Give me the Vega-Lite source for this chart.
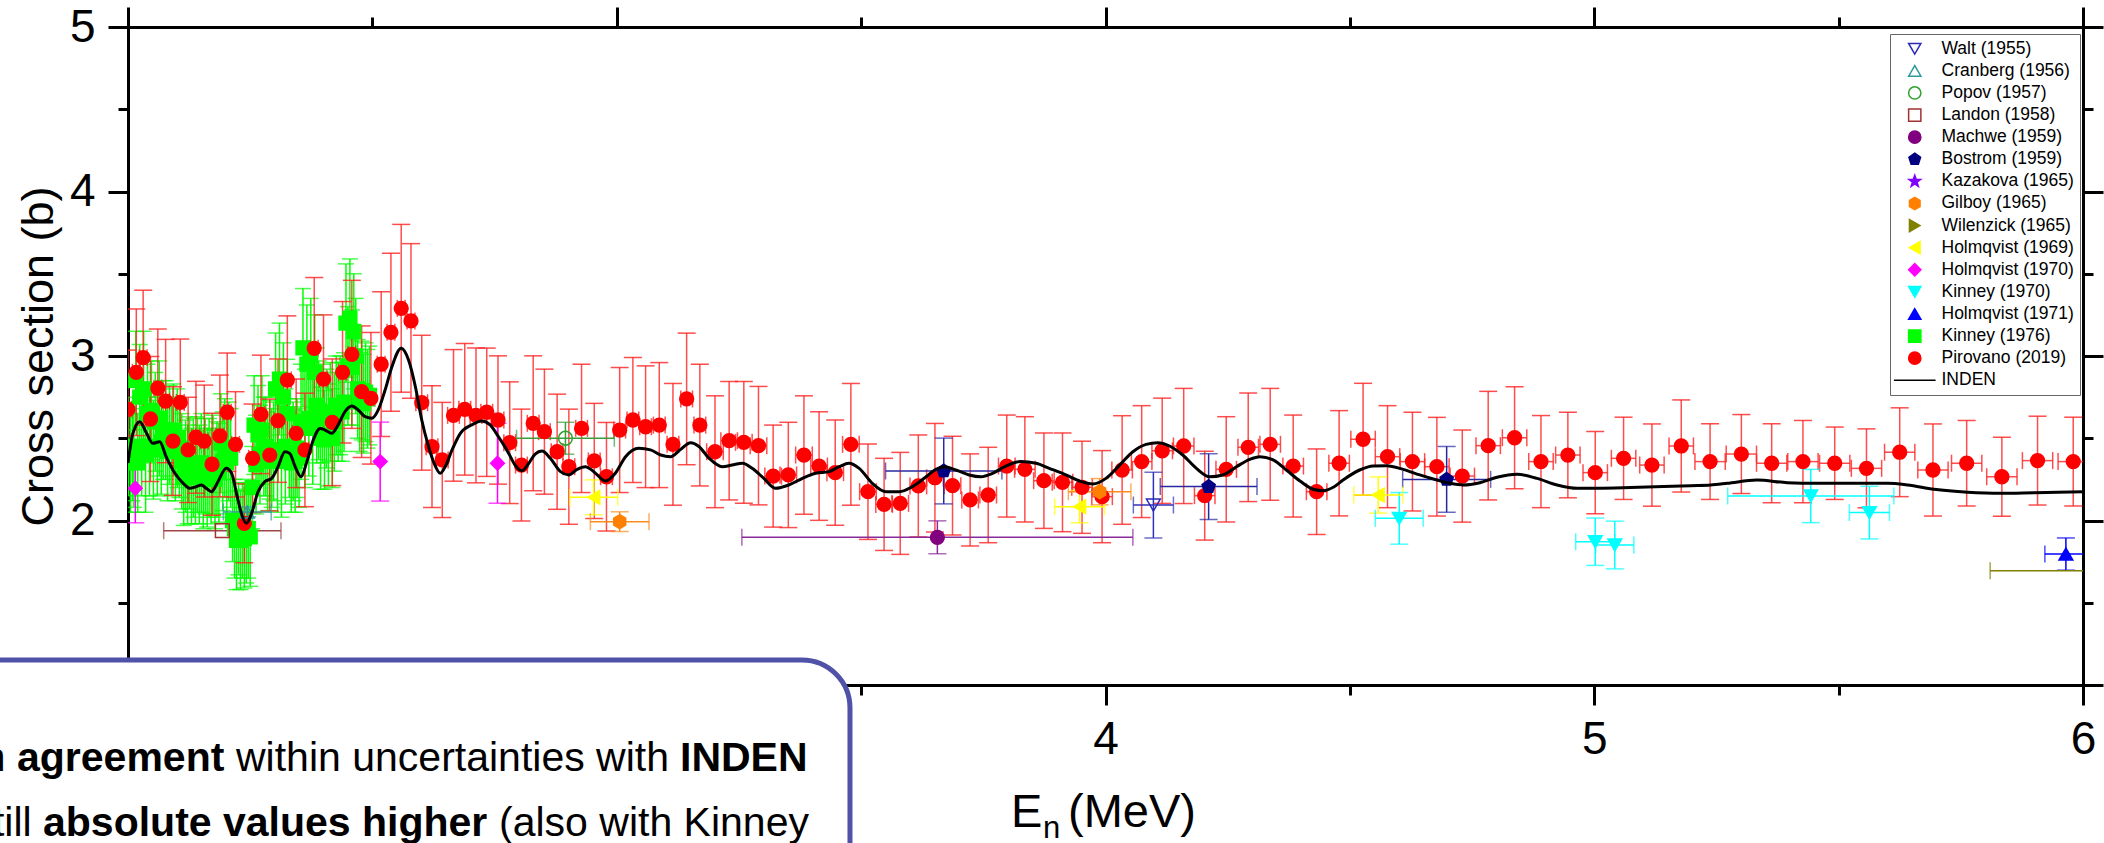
{
  "$schema": "https://vega.github.io/schema/vega-lite/v6.json",
  "width": 1955,
  "height": 658,
  "autosize": {"type": "none"},
  "padding": {"left": 128, "top": 27, "right": 21, "bottom": 158},
  "background": "white",
  "config": {
    "view": {"stroke": null},
    "font": "Liberation Sans",
    "axis": {"domainColor": "black", "domainWidth": 3, "tickColor": "black", "tickWidth": 3, "grid": false, "labelFont": "Liberation Sans", "titleFont": "Liberation Sans", "labelColor": "black", "titleColor": "black", "labelFontSize": 46, "titleFontSize": 45, "titleFontWeight": "normal", "labelFlush": false, "labelOverlap": false}
  },
  "datasets": {
    "exp": [
      {"series":"Kinney (1976)","E":2.001,"s":2.45,"ey":0.30,"ex":0},{"series":"Kinney (1976)","E":2.005,"s":2.35,"ey":0.30,"ex":0},{"series":"Kinney (1976)","E":2.009,"s":2.42,"ey":0.30,"ex":0},{"series":"Kinney (1976)","E":2.012,"s":2.38,"ey":0.30,"ex":0},
      {"series":"Kinney (1976)","E":2.016,"s":2.85,"ey":0.30,"ex":0},{"series":"Kinney (1976)","E":2.020,"s":2.35,"ey":0.30,"ex":0},{"series":"Kinney (1976)","E":2.024,"s":2.75,"ey":0.32,"ex":0},{"series":"Kinney (1976)","E":2.028,"s":2.45,"ey":0.30,"ex":0},{"series":"Kinney (1976)","E":2.032,"s":2.80,"ey":0.35,"ex":0},{"series":"Kinney (1976)","E":2.036,"s":2.40,"ey":0.35,"ex":0},{"series":"Kinney (1976)","E":2.040,"s":2.65,"ey":0.30,"ex":0},{"series":"Kinney (1976)","E":2.044,"s":2.45,"ey":0.30,"ex":0},
      {"series":"Kinney (1976)","E":2.048,"s":2.67,"ey":0.30,"ex":0},{"series":"Kinney (1976)","E":2.052,"s":2.43,"ey":0.30,"ex":0},{"series":"Kinney (1976)","E":2.056,"s":2.60,"ey":0.30,"ex":0},{"series":"Kinney (1976)","E":2.060,"s":2.45,"ey":0.30,"ex":0},{"series":"Kinney (1976)","E":2.064,"s":2.62,"ey":0.35,"ex":0},{"series":"Kinney (1976)","E":2.068,"s":2.48,"ey":0.32,"ex":0},{"series":"Kinney (1976)","E":2.072,"s":2.55,"ey":0.30,"ex":0},
      {"series":"Kinney (1976)","E":2.077,"s":2.55,"ey":0.30,"ex":0},{"series":"Kinney (1976)","E":2.081,"s":2.42,"ey":0.30,"ex":0},{"series":"Kinney (1976)","E":2.085,"s":2.52,"ey":0.30,"ex":0},{"series":"Kinney (1976)","E":2.089,"s":2.45,"ey":0.30,"ex":0},{"series":"Kinney (1976)","E":2.093,"s":2.55,"ey":0.28,"ex":0},{"series":"Kinney (1976)","E":2.097,"s":2.42,"ey":0.30,"ex":0},{"series":"Kinney (1976)","E":2.101,"s":2.50,"ey":0.30,"ex":0},{"series":"Kinney (1976)","E":2.105,"s":2.44,"ey":0.30,"ex":0},
      {"series":"Kinney (1976)","E":2.110,"s":2.36,"ey":0.29,"ex":0},{"series":"Kinney (1976)","E":2.114,"s":2.26,"ey":0.29,"ex":0},{"series":"Kinney (1976)","E":2.118,"s":2.33,"ey":0.28,"ex":0},{"series":"Kinney (1976)","E":2.122,"s":2.28,"ey":0.30,"ex":0},{"series":"Kinney (1976)","E":2.126,"s":2.35,"ey":0.28,"ex":0},{"series":"Kinney (1976)","E":2.130,"s":2.27,"ey":0.29,"ex":0},{"series":"Kinney (1976)","E":2.134,"s":2.32,"ey":0.30,"ex":0},{"series":"Kinney (1976)","E":2.138,"s":2.26,"ey":0.28,"ex":0},{"series":"Kinney (1976)","E":2.142,"s":2.34,"ey":0.29,"ex":0},{"series":"Kinney (1976)","E":2.146,"s":2.28,"ey":0.30,"ex":0},
      {"series":"Kinney (1976)","E":2.150,"s":2.35,"ey":0.30,"ex":0},{"series":"Kinney (1976)","E":2.154,"s":2.25,"ey":0.30,"ex":0},{"series":"Kinney (1976)","E":2.158,"s":2.33,"ey":0.29,"ex":0},{"series":"Kinney (1976)","E":2.162,"s":2.26,"ey":0.30,"ex":0},{"series":"Kinney (1976)","E":2.166,"s":2.32,"ey":0.30,"ex":0},{"series":"Kinney (1976)","E":2.170,"s":2.27,"ey":0.29,"ex":0},{"series":"Kinney (1976)","E":2.174,"s":2.34,"ey":0.30,"ex":0},{"series":"Kinney (1976)","E":2.178,"s":2.25,"ey":0.30,"ex":0},{"series":"Kinney (1976)","E":2.182,"s":2.31,"ey":0.29,"ex":0},{"series":"Kinney (1976)","E":2.186,"s":2.29,"ey":0.30,"ex":0},
      {"series":"Kinney (1976)","E":2.190,"s":2.47,"ey":0.30,"ex":0},{"series":"Kinney (1976)","E":2.194,"s":2.36,"ey":0.30,"ex":0},{"series":"Kinney (1976)","E":2.198,"s":2.44,"ey":0.30,"ex":0},{"series":"Kinney (1976)","E":2.202,"s":2.35,"ey":0.31,"ex":0},{"series":"Kinney (1976)","E":2.206,"s":2.42,"ey":0.30,"ex":0},{"series":"Kinney (1976)","E":2.210,"s":2.38,"ey":0.30,"ex":0},
      {"series":"Kinney (1976)","E":2.214,"s":2.00,"ey":0.25,"ex":0},{"series":"Kinney (1976)","E":2.218,"s":1.95,"ey":0.30,"ex":0},{"series":"Kinney (1976)","E":2.222,"s":1.88,"ey":0.30,"ex":0},{"series":"Kinney (1976)","E":2.226,"s":1.95,"ey":0.28,"ex":0},{"series":"Kinney (1976)","E":2.230,"s":1.88,"ey":0.30,"ex":0},{"series":"Kinney (1976)","E":2.234,"s":1.94,"ey":0.29,"ex":0},{"series":"Kinney (1976)","E":2.238,"s":1.89,"ey":0.30,"ex":0},{"series":"Kinney (1976)","E":2.242,"s":1.92,"ey":0.30,"ex":0},{"series":"Kinney (1976)","E":2.246,"s":1.95,"ey":0.30,"ex":0},{"series":"Kinney (1976)","E":2.250,"s":1.90,"ey":0.30,"ex":0},
      {"series":"Kinney (1976)","E":2.254,"s":2.20,"ey":0.25,"ex":0},{"series":"Kinney (1976)","E":2.258,"s":2.58,"ey":0.30,"ex":0},{"series":"Kinney (1976)","E":2.262,"s":2.34,"ey":0.30,"ex":0},{"series":"Kinney (1976)","E":2.266,"s":2.52,"ey":0.30,"ex":0},{"series":"Kinney (1976)","E":2.270,"s":2.40,"ey":0.30,"ex":0},{"series":"Kinney (1976)","E":2.274,"s":2.55,"ey":0.33,"ex":0},{"series":"Kinney (1976)","E":2.278,"s":2.45,"ey":0.30,"ex":0},
      {"series":"Kinney (1976)","E":2.282,"s":2.45,"ey":0.30,"ex":0},{"series":"Kinney (1976)","E":2.286,"s":2.36,"ey":0.30,"ex":0},{"series":"Kinney (1976)","E":2.290,"s":2.43,"ey":0.30,"ex":0},{"series":"Kinney (1976)","E":2.294,"s":2.38,"ey":0.30,"ex":0},{"series":"Kinney (1976)","E":2.298,"s":2.42,"ey":0.30,"ex":0},
      {"series":"Kinney (1976)","E":2.302,"s":2.80,"ey":0.34,"ex":0},{"series":"Kinney (1976)","E":2.306,"s":2.40,"ey":0.35,"ex":0},{"series":"Kinney (1976)","E":2.310,"s":2.86,"ey":0.34,"ex":0},{"series":"Kinney (1976)","E":2.314,"s":2.36,"ey":0.34,"ex":0},{"series":"Kinney (1976)","E":2.318,"s":2.75,"ey":0.33,"ex":0},{"series":"Kinney (1976)","E":2.322,"s":2.45,"ey":0.35,"ex":0},{"series":"Kinney (1976)","E":2.326,"s":2.65,"ey":0.33,"ex":0},
      {"series":"Kinney (1976)","E":2.330,"s":2.44,"ey":0.30,"ex":0},{"series":"Kinney (1976)","E":2.334,"s":2.35,"ey":0.30,"ex":0},{"series":"Kinney (1976)","E":2.338,"s":2.42,"ey":0.30,"ex":0},{"series":"Kinney (1976)","E":2.342,"s":2.36,"ey":0.31,"ex":0},{"series":"Kinney (1976)","E":2.346,"s":2.44,"ey":0.30,"ex":0},{"series":"Kinney (1976)","E":2.350,"s":2.38,"ey":0.30,"ex":0},
      {"series":"Kinney (1976)","E":2.354,"s":2.60,"ey":0.35,"ex":0},{"series":"Kinney (1976)","E":2.358,"s":3.05,"ey":0.36,"ex":0},{"series":"Kinney (1976)","E":2.362,"s":2.56,"ey":0.36,"ex":0},{"series":"Kinney (1976)","E":2.366,"s":2.95,"ey":0.36,"ex":0},{"series":"Kinney (1976)","E":2.370,"s":2.62,"ey":0.35,"ex":0},{"series":"Kinney (1976)","E":2.374,"s":3.00,"ey":0.35,"ex":0},{"series":"Kinney (1976)","E":2.378,"s":2.58,"ey":0.36,"ex":0},{"series":"Kinney (1976)","E":2.382,"s":2.90,"ey":0.35,"ex":0},{"series":"Kinney (1976)","E":2.386,"s":2.70,"ey":0.35,"ex":0},
      {"series":"Kinney (1976)","E":2.390,"s":2.67,"ey":0.30,"ex":0},{"series":"Kinney (1976)","E":2.394,"s":2.50,"ey":0.31,"ex":0},{"series":"Kinney (1976)","E":2.398,"s":2.65,"ey":0.30,"ex":0},{"series":"Kinney (1976)","E":2.402,"s":2.49,"ey":0.30,"ex":0},{"series":"Kinney (1976)","E":2.406,"s":2.62,"ey":0.30,"ex":0},{"series":"Kinney (1976)","E":2.410,"s":2.52,"ey":0.31,"ex":0},{"series":"Kinney (1976)","E":2.414,"s":2.66,"ey":0.30,"ex":0},{"series":"Kinney (1976)","E":2.418,"s":2.50,"ey":0.30,"ex":0},{"series":"Kinney (1976)","E":2.422,"s":2.60,"ey":0.30,"ex":0},
      {"series":"Kinney (1976)","E":2.426,"s":2.70,"ey":0.30,"ex":0},{"series":"Kinney (1976)","E":2.430,"s":2.66,"ey":0.30,"ex":0},{"series":"Kinney (1976)","E":2.434,"s":2.70,"ey":0.30,"ex":0},{"series":"Kinney (1976)","E":2.438,"s":2.66,"ey":0.30,"ex":0},{"series":"Kinney (1976)","E":2.442,"s":2.72,"ey":0.30,"ex":0},
      {"series":"Kinney (1976)","E":2.446,"s":3.20,"ey":0.36,"ex":0},{"series":"Kinney (1976)","E":2.450,"s":2.94,"ey":0.36,"ex":0},{"series":"Kinney (1976)","E":2.454,"s":3.23,"ey":0.36,"ex":0},{"series":"Kinney (1976)","E":2.458,"s":2.93,"ey":0.35,"ex":0},{"series":"Kinney (1976)","E":2.462,"s":3.15,"ey":0.35,"ex":0},{"series":"Kinney (1976)","E":2.466,"s":3.00,"ey":0.35,"ex":0},
      {"series":"Kinney (1976)","E":2.470,"s":2.80,"ey":0.30,"ex":0},{"series":"Kinney (1976)","E":2.474,"s":2.72,"ey":0.30,"ex":0},{"series":"Kinney (1976)","E":2.478,"s":2.79,"ey":0.30,"ex":0},{"series":"Kinney (1976)","E":2.482,"s":2.71,"ey":0.30,"ex":0},{"series":"Kinney (1976)","E":2.486,"s":2.78,"ey":0.30,"ex":0},{"series":"Kinney (1976)","E":2.490,"s":2.74,"ey":0.30,"ex":0},{"series":"Kinney (1976)","E":2.494,"s":2.76,"ey":0.30,"ex":0},

      {"series":"Pirovano (2019)","E":2.000,"s":2.676,"ey":0.36,"ex":0.008},{"series":"Pirovano (2019)","E":2.017,"s":2.901,"ey":0.385,"ex":0.008},{"series":"Pirovano (2019)","E":2.031,"s":2.990,"ey":0.41,"ex":0.008},{"series":"Pirovano (2019)","E":2.046,"s":2.617,"ey":0.38,"ex":0.008},{"series":"Pirovano (2019)","E":2.061,"s":2.804,"ey":0.36,"ex":0.008},{"series":"Pirovano (2019)","E":2.077,"s":2.726,"ey":0.375,"ex":0.008},{"series":"Pirovano (2019)","E":2.092,"s":2.483,"ey":0.33,"ex":0.008},{"series":"Pirovano (2019)","E":2.107,"s":2.718,"ey":0.385,"ex":0.008},{"series":"Pirovano (2019)","E":2.123,"s":2.429,"ey":0.32,"ex":0.008},{"series":"Pirovano (2019)","E":2.139,"s":2.506,"ey":0.34,"ex":0.008},
      {"series":"Pirovano (2019)","E":2.156,"s":2.483,"ey":0.34,"ex":0.008},{"series":"Pirovano (2019)","E":2.172,"s":2.342,"ey":0.31,"ex":0.008},{"series":"Pirovano (2019)","E":2.188,"s":2.514,"ey":0.37,"ex":0.008},{"series":"Pirovano (2019)","E":2.203,"s":2.658,"ey":0.36,"ex":0.008},{"series":"Pirovano (2019)","E":2.220,"s":2.463,"ey":0.32,"ex":0.008},{"series":"Pirovano (2019)","E":2.238,"s":1.983,"ey":0.24,"ex":0.008},{"series":"Pirovano (2019)","E":2.255,"s":2.378,"ey":0.33,"ex":0.008},{"series":"Pirovano (2019)","E":2.272,"s":2.645,"ey":0.36,"ex":0.008},{"series":"Pirovano (2019)","E":2.290,"s":2.398,"ey":0.34,"ex":0.008},{"series":"Pirovano (2019)","E":2.307,"s":2.607,"ey":0.375,"ex":0.008},
      {"series":"Pirovano (2019)","E":2.326,"s":2.854,"ey":0.39,"ex":0.008},{"series":"Pirovano (2019)","E":2.344,"s":2.530,"ey":0.33,"ex":0.008},{"series":"Pirovano (2019)","E":2.362,"s":2.429,"ey":0.345,"ex":0.008},{"series":"Pirovano (2019)","E":2.381,"s":3.047,"ey":0.43,"ex":0.008},{"series":"Pirovano (2019)","E":2.400,"s":2.860,"ey":0.39,"ex":0.008},{"series":"Pirovano (2019)","E":2.418,"s":2.597,"ey":0.385,"ex":0.008},{"series":"Pirovano (2019)","E":2.439,"s":2.901,"ey":0.43,"ex":0.008},{"series":"Pirovano (2019)","E":2.458,"s":3.010,"ey":0.45,"ex":0.008},{"series":"Pirovano (2019)","E":2.478,"s":2.783,"ey":0.40,"ex":0.008},{"series":"Pirovano (2019)","E":2.497,"s":2.743,"ey":0.40,"ex":0.008},
      {"series":"Pirovano (2019)","E":2.518,"s":2.950,"ey":0.44,"ex":0.008},{"series":"Pirovano (2019)","E":2.538,"s":3.144,"ey":0.48,"ex":0.008},{"series":"Pirovano (2019)","E":2.559,"s":3.290,"ey":0.51,"ex":0.008},{"series":"Pirovano (2019)","E":2.579,"s":3.213,"ey":0.47,"ex":0.008},{"series":"Pirovano (2019)","E":2.601,"s":2.716,"ey":0.41,"ex":0.012},{"series":"Pirovano (2019)","E":2.622,"s":2.449,"ey":0.37,"ex":0.012},{"series":"Pirovano (2019)","E":2.643,"s":2.368,"ey":0.35,"ex":0.012},{"series":"Pirovano (2019)","E":2.666,"s":2.639,"ey":0.40,"ex":0.012},{"series":"Pirovano (2019)","E":2.689,"s":2.676,"ey":0.40,"ex":0.012},{"series":"Pirovano (2019)","E":2.712,"s":2.639,"ey":0.41,"ex":0.012},
      {"series":"Pirovano (2019)","E":2.734,"s":2.658,"ey":0.39,"ex":0.012},{"series":"Pirovano (2019)","E":2.757,"s":2.611,"ey":0.39,"ex":0.012},{"series":"Pirovano (2019)","E":2.781,"s":2.473,"ey":0.37,"ex":0.012},{"series":"Pirovano (2019)","E":2.805,"s":2.337,"ey":0.34,"ex":0.012},{"series":"Pirovano (2019)","E":2.829,"s":2.591,"ey":0.41,"ex":0.012},{"series":"Pirovano (2019)","E":2.852,"s":2.540,"ey":0.38,"ex":0.012},{"series":"Pirovano (2019)","E":2.878,"s":2.418,"ey":0.35,"ex":0.012},{"series":"Pirovano (2019)","E":2.902,"s":2.327,"ey":0.35,"ex":0.012},{"series":"Pirovano (2019)","E":2.928,"s":2.560,"ey":0.39,"ex":0.012},{"series":"Pirovano (2019)","E":2.954,"s":2.362,"ey":0.35,"ex":0.012},
      {"series":"Pirovano (2019)","E":2.979,"s":2.266,"ey":0.33,"ex":0.012},{"series":"Pirovano (2019)","E":3.006,"s":2.550,"ey":0.38,"ex":0.012},{"series":"Pirovano (2019)","E":3.033,"s":2.611,"ey":0.38,"ex":0.012},{"series":"Pirovano (2019)","E":3.059,"s":2.570,"ey":0.37,"ex":0.012},{"series":"Pirovano (2019)","E":3.087,"s":2.580,"ey":0.38,"ex":0.012},{"series":"Pirovano (2019)","E":3.115,"s":2.463,"ey":0.37,"ex":0.012},{"series":"Pirovano (2019)","E":3.143,"s":2.739,"ey":0.40,"ex":0.012},{"series":"Pirovano (2019)","E":3.170,"s":2.580,"ey":0.37,"ex":0.012},{"series":"Pirovano (2019)","E":3.201,"s":2.418,"ey":0.34,"ex":0.017},{"series":"Pirovano (2019)","E":3.230,"s":2.485,"ey":0.36,"ex":0.017},
      {"series":"Pirovano (2019)","E":3.260,"s":2.475,"ey":0.37,"ex":0.017},{"series":"Pirovano (2019)","E":3.290,"s":2.455,"ey":0.36,"ex":0.017},{"series":"Pirovano (2019)","E":3.320,"s":2.270,"ey":0.31,"ex":0.017},{"series":"Pirovano (2019)","E":3.351,"s":2.277,"ey":0.32,"ex":0.017},{"series":"Pirovano (2019)","E":3.383,"s":2.398,"ey":0.36,"ex":0.017},{"series":"Pirovano (2019)","E":3.414,"s":2.331,"ey":0.33,"ex":0.017},{"series":"Pirovano (2019)","E":3.447,"s":2.291,"ey":0.32,"ex":0.017},{"series":"Pirovano (2019)","E":3.479,"s":2.463,"ey":0.37,"ex":0.017},{"series":"Pirovano (2019)","E":3.514,"s":2.175,"ey":0.29,"ex":0.017},{"series":"Pirovano (2019)","E":3.547,"s":2.098,"ey":0.28,"ex":0.017},
      {"series":"Pirovano (2019)","E":3.580,"s":2.104,"ey":0.31,"ex":0.017},{"series":"Pirovano (2019)","E":3.617,"s":2.210,"ey":0.31,"ex":0.017},{"series":"Pirovano (2019)","E":3.651,"s":2.260,"ey":0.33,"ex":0.017},{"series":"Pirovano (2019)","E":3.687,"s":2.212,"ey":0.30,"ex":0.017},{"series":"Pirovano (2019)","E":3.723,"s":2.125,"ey":0.28,"ex":0.017},{"series":"Pirovano (2019)","E":3.760,"s":2.155,"ey":0.29,"ex":0.017},{"series":"Pirovano (2019)","E":3.798,"s":2.331,"ey":0.31,"ex":0.017},{"series":"Pirovano (2019)","E":3.835,"s":2.311,"ey":0.32,"ex":0.021},{"series":"Pirovano (2019)","E":3.874,"s":2.242,"ey":0.29,"ex":0.021},{"series":"Pirovano (2019)","E":3.912,"s":2.232,"ey":0.30,"ex":0.021},
      {"series":"Pirovano (2019)","E":3.952,"s":2.202,"ey":0.28,"ex":0.021},{"series":"Pirovano (2019)","E":3.993,"s":2.145,"ey":0.28,"ex":0.021},{"series":"Pirovano (2019)","E":4.034,"s":2.307,"ey":0.33,"ex":0.021},{"series":"Pirovano (2019)","E":4.074,"s":2.358,"ey":0.34,"ex":0.021},{"series":"Pirovano (2019)","E":4.116,"s":2.424,"ey":0.32,"ex":0.021},{"series":"Pirovano (2019)","E":4.160,"s":2.453,"ey":0.35,"ex":0.021},{"series":"Pirovano (2019)","E":4.203,"s":2.151,"ey":0.27,"ex":0.021},{"series":"Pirovano (2019)","E":4.247,"s":2.311,"ey":0.32,"ex":0.021},{"series":"Pirovano (2019)","E":4.292,"s":2.445,"ey":0.33,"ex":0.021},{"series":"Pirovano (2019)","E":4.337,"s":2.463,"ey":0.34,"ex":0.021},
      {"series":"Pirovano (2019)","E":4.384,"s":2.331,"ey":0.31,"ex":0.021},{"series":"Pirovano (2019)","E":4.432,"s":2.175,"ey":0.26,"ex":0.021},{"series":"Pirovano (2019)","E":4.478,"s":2.348,"ey":0.32,"ex":0.021},{"series":"Pirovano (2019)","E":4.527,"s":2.494,"ey":0.34,"ex":0.025},{"series":"Pirovano (2019)","E":4.577,"s":2.388,"ey":0.31,"ex":0.025},{"series":"Pirovano (2019)","E":4.628,"s":2.358,"ey":0.30,"ex":0.025},{"series":"Pirovano (2019)","E":4.678,"s":2.327,"ey":0.30,"ex":0.025},{"series":"Pirovano (2019)","E":4.730,"s":2.270,"ey":0.28,"ex":0.025},{"series":"Pirovano (2019)","E":4.783,"s":2.455,"ey":0.33,"ex":0.025},{"series":"Pirovano (2019)","E":4.837,"s":2.503,"ey":0.31,"ex":0.025},
      {"series":"Pirovano (2019)","E":4.891,"s":2.358,"ey":0.28,"ex":0.025},{"series":"Pirovano (2019)","E":4.946,"s":2.398,"ey":0.26,"ex":0.025},{"series":"Pirovano (2019)","E":5.002,"s":2.291,"ey":0.25,"ex":0.025},{"series":"Pirovano (2019)","E":5.060,"s":2.378,"ey":0.25,"ex":0.025},{"series":"Pirovano (2019)","E":5.118,"s":2.337,"ey":0.25,"ex":0.025},{"series":"Pirovano (2019)","E":5.178,"s":2.453,"ey":0.28,"ex":0.025},{"series":"Pirovano (2019)","E":5.237,"s":2.358,"ey":0.23,"ex":0.031},{"series":"Pirovano (2019)","E":5.301,"s":2.404,"ey":0.24,"ex":0.031},{"series":"Pirovano (2019)","E":5.363,"s":2.348,"ey":0.24,"ex":0.031},{"series":"Pirovano (2019)","E":5.427,"s":2.358,"ey":0.25,"ex":0.031},
      {"series":"Pirovano (2019)","E":5.492,"s":2.348,"ey":0.22,"ex":0.031},{"series":"Pirovano (2019)","E":5.557,"s":2.317,"ey":0.24,"ex":0.031},{"series":"Pirovano (2019)","E":5.625,"s":2.415,"ey":0.27,"ex":0.031},{"series":"Pirovano (2019)","E":5.693,"s":2.307,"ey":0.28,"ex":0.031},{"series":"Pirovano (2019)","E":5.762,"s":2.348,"ey":0.26,"ex":0.031},{"series":"Pirovano (2019)","E":5.834,"s":2.266,"ey":0.24,"ex":0.031},{"series":"Pirovano (2019)","E":5.907,"s":2.364,"ey":0.27,"ex":0.031},{"series":"Pirovano (2019)","E":5.980,"s":2.358,"ey":0.27,"ex":0.031},

      {"series":"Walt (1955)","E":4.098,"s":2.094,"ey":0.20,"ex":0.041},
      {"series":"Cranberg (1956)","E":2.244,"s":2.052,"ey":0.03,"ex":0.049},
      {"series":"Popov (1957)","E":2.895,"s":2.500,"ey":0.097,"ex":0.10},
      {"series":"Landon (1958)","E":2.193,"s":1.938,"ey":0,"ex":0.12},
      {"series":"Machwe (1959)","E":3.656,"s":1.898,"ey":0.10,"ex":0.40},
      {"series":"Bostrom (1959)","E":3.669,"s":2.301,"ey":0.20,"ex":0.119},{"series":"Bostrom (1959)","E":4.211,"s":2.206,"ey":0.20,"ex":0.099},{"series":"Bostrom (1959)","E":4.698,"s":2.250,"ey":0.20,"ex":0.09},
      {"series":"Gilboy (1965)","E":3.006,"s":1.993,"ey":0.06,"ex":0.06},{"series":"Gilboy (1965)","E":3.988,"s":2.175,"ey":0.08,"ex":0.064},
      {"series":"Wilenzick (1965)","E":6.05,"s":1.695,"ey":0,"ex":0.24},
      {"series":"Holmqvist (1969)","E":2.953,"s":2.141,"ey":0.106,"ex":0.049},{"series":"Holmqvist (1969)","E":3.947,"s":2.084,"ey":0.098,"ex":0.051},{"series":"Holmqvist (1969)","E":4.558,"s":2.155,"ey":0.11,"ex":0.05},
      {"series":"Holmqvist (1970)","E":2.015,"s":2.196,"ey":0.21,"ex":0},{"series":"Holmqvist (1970)","E":2.516,"s":2.358,"ey":0.24,"ex":0},{"series":"Holmqvist (1970)","E":2.756,"s":2.348,"ey":0.243,"ex":0},
      {"series":"Kinney (1970)","E":4.601,"s":2.013,"ey":0.157,"ex":0.049},{"series":"Kinney (1970)","E":5.002,"s":1.871,"ey":0.144,"ex":0.04},{"series":"Kinney (1970)","E":5.042,"s":1.851,"ey":0.145,"ex":0.039},{"series":"Kinney (1970)","E":5.443,"s":2.149,"ey":0.162,"ex":0.17},{"series":"Kinney (1970)","E":5.563,"s":2.048,"ey":0.16,"ex":0.041},
      {"series":"Holmqvist (1971)","E":5.965,"s":1.796,"ey":0.098,"ex":0.043}
    ],
    "inden": [
      {"E":2.000,"s":2.35},{"E":2.010,"s":2.530},{"E":2.024,"s":2.601},{"E":2.038,"s":2.530},{"E":2.051,"s":2.469},{"E":2.065,"s":2.479},{"E":2.078,"s":2.388},{"E":2.096,"s":2.287},{"E":2.113,"s":2.226},{"E":2.126,"s":2.196},{"E":2.140,"s":2.206},{"E":2.150,"s":2.216},{"E":2.160,"s":2.196},{"E":2.171,"s":2.175},{"E":2.184,"s":2.236},{"E":2.201,"s":2.317},{"E":2.212,"s":2.287},{"E":2.222,"s":2.165},{"E":2.232,"s":2.044},{"E":2.242,"s":1.983},{"E":2.253,"s":2.044},{"E":2.266,"s":2.175},{"E":2.280,"s":2.236},{"E":2.294,"s":2.256},{"E":2.307,"s":2.327},{"E":2.321,"s":2.418},{"E":2.331,"s":2.408},{"E":2.342,"s":2.327},{"E":2.354,"s":2.266},{"E":2.365,"s":2.348},{"E":2.379,"s":2.489},{"E":2.393,"s":2.560},{"E":2.403,"s":2.550},{"E":2.417,"s":2.530},{"E":2.430,"s":2.581},{"E":2.444,"s":2.662},{"E":2.458,"s":2.696},{"E":2.471,"s":2.672},{"E":2.485,"s":2.631},{"E":2.499,"s":2.621},{"E":2.512,"s":2.672},{"E":2.526,"s":2.793},{"E":2.540,"s":2.935},{"E":2.559,"s":3.047},{"E":2.574,"s":2.976},{"E":2.588,"s":2.813},{"E":2.601,"s":2.611},{"E":2.615,"s":2.449},{"E":2.626,"s":2.35},{"E":2.639,"s":2.287},{"E":2.649,"s":2.327},{"E":2.663,"s":2.429},{"E":2.680,"s":2.530},{"E":2.703,"s":2.581},{"E":2.724,"s":2.605},{"E":2.741,"s":2.581},{"E":2.758,"s":2.509},{"E":2.779,"s":2.408},{"E":2.792,"s":2.337},{"E":2.806,"s":2.303},{"E":2.820,"s":2.348},{"E":2.833,"s":2.404},{"E":2.847,"s":2.422},{"E":2.864,"s":2.378},{"E":2.885,"s":2.297},{"E":2.902,"s":2.277},{"E":2.919,"s":2.311},{"E":2.936,"s":2.327},{"E":2.953,"s":2.297},{"E":2.977,"s":2.240},{"E":2.997,"s":2.287},{"E":3.018,"s":2.388},{"E":3.045,"s":2.439},{"E":3.069,"s":2.429},{"E":3.090,"s":2.398},{"E":3.110,"s":2.388},{"E":3.131,"s":2.433},{"E":3.151,"s":2.473},{"E":3.168,"s":2.450},{"E":3.189,"s":2.378},{"E":3.216,"s":2.327},{"E":3.236,"s":2.337},{"E":3.257,"s":2.348},{"E":3.277,"s":2.317},{"E":3.301,"s":2.256},{"E":3.325,"s":2.196},{"E":3.352,"s":2.216},{"E":3.380,"s":2.256},{"E":3.407,"s":2.287},{"E":3.434,"s":2.297},{"E":3.455,"s":2.327},{"E":3.475,"s":2.348},{"E":3.496,"s":2.317},{"E":3.523,"s":2.226},{"E":3.551,"s":2.175},{"E":3.578,"s":2.175},{"E":3.605,"s":2.206},{"E":3.633,"s":2.266},{"E":3.653,"s":2.311},{"E":3.670,"s":2.327},{"E":3.694,"s":2.307},{"E":3.721,"s":2.277},{"E":3.745,"s":2.266},{"E":3.769,"s":2.287},{"E":3.796,"s":2.331},{"E":3.826,"s":2.358},{"E":3.858,"s":2.348},{"E":3.885,"s":2.317},{"E":3.919,"s":2.277},{"E":3.947,"s":2.240},{"E":3.974,"s":2.222},{"E":4.001,"s":2.256},{"E":4.029,"s":2.337},{"E":4.056,"s":2.418},{"E":4.083,"s":2.463},{"E":4.107,"s":2.473},{"E":4.131,"s":2.453},{"E":4.158,"s":2.398},{"E":4.186,"s":2.317},{"E":4.213,"s":2.266},{"E":4.240,"s":2.277},{"E":4.268,"s":2.327},{"E":4.295,"s":2.372},{"E":4.316,"s":2.388},{"E":4.343,"s":2.368},{"E":4.370,"s":2.307},{"E":4.398,"s":2.240},{"E":4.425,"s":2.190},{"E":4.445,"s":2.181},{"E":4.466,"s":2.202},{"E":4.486,"s":2.246},{"E":4.520,"s":2.307},{"E":4.548,"s":2.331},{"E":4.575,"s":2.333},{"E":4.609,"s":2.311},{"E":4.643,"s":2.277},{"E":4.678,"s":2.246},{"E":4.705,"s":2.226},{"E":4.732,"s":2.216},{"E":4.766,"s":2.230},{"E":4.801,"s":2.263},{"E":4.842,"s":2.281},{"E":4.883,"s":2.256},{"E":4.924,"s":2.216},{"E":4.965,"s":2.196},{"E":5.006,"s":2.196},{"E":5.074,"s":2.200},{"E":5.142,"s":2.206},{"E":5.197,"s":2.212},{"E":5.238,"s":2.216},{"E":5.272,"s":2.226},{"E":5.333,"s":2.246},{"E":5.395,"s":2.230},{"E":5.456,"s":2.226},{"E":5.525,"s":2.226},{"E":5.600,"s":2.226},{"E":5.641,"s":2.216},{"E":5.695,"s":2.190},{"E":5.764,"s":2.172},{"E":5.832,"s":2.165},{"E":5.900,"s":2.169},{"E":6.000,"s":2.175}
    ]
  },
  "resolve": {"axis": {"x": "independent", "y": "independent"}},
  "layer": [
    {
      "data": {"name": "exp"},
      "transform": [{"filter": "datum.series === 'Kinney (1976)'"}],
      "mark": {"type": "errorbar", "color": "#00FF00", "thickness": 1.5, "ticks": {"size": 16}, "clip": true},
      "encoding": {
        "x": {"field": "E", "type": "quantitative", "scale": {"domain": [2, 6], "nice": false, "zero": false},
              "axis": {"orient": "bottom", "values": [2, 2.5, 3, 3.5, 4, 4.5, 5, 5.5, 6], "labelExpr": "datum.value % 1 === 0 ? '' + datum.value : ''", "tickSize": {"condition": {"test": "datum.value % 1 !== 0", "value": 10}, "value": 20}, "labelPadding": 12, "title": null}},
        "y": {"field": "s", "type": "quantitative", "scale": {"domain": [1, 5], "nice": false, "zero": false},
              "axis": {"orient": "left", "values": [1, 1.5, 2, 2.5, 3, 3.5, 4, 4.5, 5], "labelExpr": "datum.value % 1 === 0 ? '' + datum.value : ''", "tickSize": {"condition": {"test": "datum.value % 1 !== 0", "value": 10}, "value": 20}, "labelPadding": 13, "title": "Cross section (b)", "titlePadding": 8}},
        "yError": {"field": "ey"}
      }
    },
    {
      "data": {"name": "exp"},
      "transform": [{"filter": "datum.series === 'Pirovano (2019)'"}],
      "mark": {"type": "errorbar", "color": "#FF2020", "opacity": 0.8, "thickness": 1.5, "ticks": {"size": 18}, "clip": true},
      "encoding": {
        "x": {"field": "E", "type": "quantitative", "scale": {"domain": [2, 6], "nice": false, "zero": false},
              "axis": {"orient": "top", "values": [2, 2.5, 3, 3.5, 4, 4.5, 5, 5.5, 6], "labels": false, "tickSize": {"condition": {"test": "datum.value % 1 !== 0", "value": 10}, "value": 20}, "title": null}},
        "y": {"field": "s", "type": "quantitative", "scale": {"domain": [1, 5], "nice": false, "zero": false},
              "axis": {"orient": "right", "values": [1, 1.5, 2, 2.5, 3, 3.5, 4, 4.5, 5], "labels": false, "tickSize": {"condition": {"test": "datum.value % 1 !== 0", "value": 10}, "value": 20}, "title": null}},
        "yError": {"field": "ey"}
      }
    },
    {
      "data": {"name": "exp"},
      "transform": [{"filter": "datum.series === 'Pirovano (2019)'"}],
      "mark": {"type": "errorbar", "color": "#FF2020", "opacity": 0.8, "thickness": 1.5, "ticks": {"size": 17}, "clip": true},
      "encoding": {
        "x": {"field": "E", "type": "quantitative", "scale": {"domain": [2, 6], "nice": false, "zero": false}, "axis": null},
        "y": {"field": "s", "type": "quantitative", "scale": {"domain": [1, 5], "nice": false, "zero": false}, "axis": null},
        "xError": {"field": "ex"}
      }
    },
    {
      "data": {"name": "exp"},
      "transform": [{"filter": "datum.series !== 'Pirovano (2019)' && datum.series !== 'Kinney (1976)' && datum.ey > 0"}],
      "mark": {"type": "errorbar", "thickness": 1.5, "ticks": {"size": 18}, "clip": true},
      "encoding": {
        "x": {"field": "E", "type": "quantitative", "scale": {"domain": [2, 6], "nice": false, "zero": false}, "axis": null},
        "y": {"field": "s", "type": "quantitative", "scale": {"domain": [1, 5], "nice": false, "zero": false}, "axis": null},
        "yError": {"field": "ey"},
        "color": {"field": "series", "type": "nominal", "legend": null,
                  "scale": {"domain": ["Walt (1955)","Cranberg (1956)","Popov (1957)","Landon (1958)","Machwe (1959)","Bostrom (1959)","Kazakova (1965)","Gilboy (1965)","Wilenzick (1965)","Holmqvist (1969)","Holmqvist (1970)","Kinney (1970)","Holmqvist (1971)","Kinney (1976)","Pirovano (2019)"],
                            "range": ["#3030B8","#2E9999","#3A9F3A","#A04545","#8A2A9A","#2828A0","#8000FF","#FF8C1A","#808000","#FFFF00","#FF00FF","#00FFFF","#0000FF","#00FF00","#FF0000"]}}
      }
    },
    {
      "data": {"name": "exp"},
      "transform": [{"filter": "datum.series !== 'Pirovano (2019)' && datum.series !== 'Kinney (1976)' && datum.ex > 0"}],
      "mark": {"type": "errorbar", "thickness": 1.5, "ticks": {"size": 17}, "clip": true},
      "encoding": {
        "x": {"field": "E", "type": "quantitative", "scale": {"domain": [2, 6], "nice": false, "zero": false}, "axis": null},
        "y": {"field": "s", "type": "quantitative", "scale": {"domain": [1, 5], "nice": false, "zero": false}, "axis": null},
        "xError": {"field": "ex"},
        "color": {"field": "series", "type": "nominal", "legend": null}
      }
    },
    {
      "data": {"name": "exp"},
      "mark": {"type": "point", "size": 190, "strokeWidth": 1.5, "opacity": 1, "clip": true},
      "encoding": {
        "x": {"field": "E", "type": "quantitative", "scale": {"domain": [2, 6], "nice": false, "zero": false}, "axis": null},
        "y": {"field": "s", "type": "quantitative", "scale": {"domain": [1, 5], "nice": false, "zero": false}, "axis": null},
        "fill": {"field": "series", "type": "nominal",
                 "legend": {"orient": "none", "legendX": 1762, "legendY": 7, "title": null, "labelFont": "Liberation Sans", "labelFontSize": 17.5, "labelColor": "black", "symbolSize": 150, "symbolStrokeWidth": 1.5, "symbolOffset": 10, "rowPadding": 3.1, "padding": 6, "strokeColor": "#666666", "fillColor": "white", "labelOffset": 18, "labelLimit": 300},
                 "scale": {"domain": ["Walt (1955)","Cranberg (1956)","Popov (1957)","Landon (1958)","Machwe (1959)","Bostrom (1959)","Kazakova (1965)","Gilboy (1965)","Wilenzick (1965)","Holmqvist (1969)","Holmqvist (1970)","Kinney (1970)","Holmqvist (1971)","Kinney (1976)","Pirovano (2019)","INDEN"],
                           "range": ["transparent","transparent","transparent","transparent","#800080","#000080","#8000FF","#FF8000","#808000","#FFFF00","#FF00FF","#00FFFF","#0000FF","#00FF00","#FF0000","transparent"]}},
        "stroke": {"field": "series", "type": "nominal",
                 "legend": {"orient": "none", "legendX": 1762, "legendY": 7, "title": null, "labelFont": "Liberation Sans", "labelFontSize": 17.5, "labelColor": "black", "symbolSize": 150, "symbolStrokeWidth": 1.5, "symbolOffset": 10, "rowPadding": 3.1, "padding": 6, "strokeColor": "#666666", "fillColor": "white", "labelOffset": 18, "labelLimit": 300},
                 "scale": {"domain": ["Walt (1955)","Cranberg (1956)","Popov (1957)","Landon (1958)","Machwe (1959)","Bostrom (1959)","Kazakova (1965)","Gilboy (1965)","Wilenzick (1965)","Holmqvist (1969)","Holmqvist (1970)","Kinney (1970)","Holmqvist (1971)","Kinney (1976)","Pirovano (2019)","INDEN"],
                           "range": ["#2B2BB8","#2E9999","#33A033","#A03232","#800080","#000080","#8000FF","#FF8000","#808000","#FFFF00","#FF00FF","#00FFFF","#0000FF","#00FF00","#FF0000","#000000"]}},
        "shape": {"field": "series", "type": "nominal",
                 "legend": {"orient": "none", "legendX": 1762, "legendY": 7, "title": null, "labelFont": "Liberation Sans", "labelFontSize": 17.5, "labelColor": "black", "symbolSize": 150, "symbolStrokeWidth": 1.5, "symbolOffset": 10, "rowPadding": 3.1, "padding": 6, "strokeColor": "#666666", "fillColor": "white", "labelOffset": 18, "labelLimit": 300},
                 "scale": {"domain": ["Walt (1955)","Cranberg (1956)","Popov (1957)","Landon (1958)","Machwe (1959)","Bostrom (1959)","Kazakova (1965)","Gilboy (1965)","Wilenzick (1965)","Holmqvist (1969)","Holmqvist (1970)","Kinney (1970)","Holmqvist (1971)","Kinney (1976)","Pirovano (2019)","INDEN"],
                           "range": ["triangle-down","triangle-up","circle","square","circle","M0,-1L0.951,-0.309L0.588,0.809L-0.588,0.809L-0.951,-0.309Z","M0,-1L0.235,-0.324L0.951,-0.309L0.38,0.124L0.588,0.809L0,0.4L-0.588,0.809L-0.38,0.124L-0.951,-0.309L-0.235,-0.324Z","M0,-1L0.866,-0.5L0.866,0.5L0,1L-0.866,0.5L-0.866,-0.5Z","triangle-right","triangle-left","diamond","triangle-down","triangle-up","square","circle","M-3.4,0H3.4"]}}
      }
    },
    {
      "data": {"name": "inden"},
      "mark": {"type": "line", "color": "black", "strokeWidth": 3, "interpolate": "monotone", "clip": true},
      "encoding": {
        "x": {"field": "E", "type": "quantitative", "scale": {"domain": [2, 6], "nice": false, "zero": false}, "axis": null},
        "y": {"field": "s", "type": "quantitative", "scale": {"domain": [1, 5], "nice": false, "zero": false}, "axis": null}
      }
    },
    {
      "data": {"values": [{}]},
      "mark": {"type": "rect", "fill": "white", "stroke": "#4F52A6", "strokeWidth": 5, "cornerRadius": 48, "clip": false},
      "encoding": {
        "x": {"datum": 1.5, "type": "quantitative", "scale": {"domain": [2, 6], "nice": false, "zero": false}, "axis": null},
        "x2": {"datum": 3.4772},
        "y": {"datum": 1.152, "type": "quantitative", "scale": {"domain": [1, 5], "nice": false, "zero": false}, "axis": null},
        "y2": {"datum": -0.6}
      }
    },
    {
      "data": {"values": [{}]},
      "mark": {"type": "text", "text": "n", "fontSize": 41, "font": "Liberation Sans", "align": "right", "baseline": "alphabetic", "color": "black", "clip": false},
      "encoding": {"x": {"datum": 1.7496, "type": "quantitative", "axis": null}, "y": {"datum": 0.477, "type": "quantitative", "axis": null}}
    },
    {
      "data": {"values": [{}]},
      "mark": {"type": "text", "text": "agreement", "fontSize": 41, "fontWeight": "bold", "font": "Liberation Sans", "align": "left", "baseline": "alphabetic", "color": "black", "clip": false},
      "encoding": {"x": {"datum": 1.7729, "type": "quantitative", "axis": null}, "y": {"datum": 0.477, "type": "quantitative", "axis": null}}
    },
    {
      "data": {"values": [{}]},
      "mark": {"type": "text", "text": "within uncertainties with", "fontSize": 41, "font": "Liberation Sans", "align": "left", "baseline": "alphabetic", "color": "black", "clip": false},
      "encoding": {"x": {"datum": 2.2210, "type": "quantitative", "axis": null}, "y": {"datum": 0.477, "type": "quantitative", "axis": null}}
    },
    {
      "data": {"values": [{}]},
      "mark": {"type": "text", "text": "INDEN", "fontSize": 41, "fontWeight": "bold", "font": "Liberation Sans", "align": "left", "baseline": "alphabetic", "color": "black", "clip": false},
      "encoding": {"x": {"datum": 3.1294, "type": "quantitative", "axis": null}, "y": {"datum": 0.477, "type": "quantitative", "axis": null}}
    },
    {
      "data": {"values": [{}]},
      "mark": {"type": "text", "text": "till", "fontSize": 41, "font": "Liberation Sans", "align": "right", "baseline": "alphabetic", "color": "black", "clip": false},
      "encoding": {"x": {"datum": 1.8028, "type": "quantitative", "axis": null}, "y": {"datum": 0.082, "type": "quantitative", "axis": null}}
    },
    {
      "data": {"values": [{}]},
      "mark": {"type": "text", "text": "absolute values higher", "fontSize": 41, "fontWeight": "bold", "font": "Liberation Sans", "align": "left", "baseline": "alphabetic", "color": "black", "clip": false},
      "encoding": {"x": {"datum": 1.8261, "type": "quantitative", "axis": null}, "y": {"datum": 0.082, "type": "quantitative", "axis": null}}
    },
    {
      "data": {"values": [{}]},
      "mark": {"type": "text", "text": "(also with Kinney", "fontSize": 41, "font": "Liberation Sans", "align": "left", "baseline": "alphabetic", "color": "black", "clip": false},
      "encoding": {"x": {"datum": 2.7591, "type": "quantitative", "axis": null}, "y": {"datum": 0.082, "type": "quantitative", "axis": null}}
    },
    {
      "data": {"values": [{}]},
      "mark": {"type": "text", "text": "E", "fontSize": 47, "font": "Liberation Sans", "align": "left", "baseline": "alphabetic", "color": "black", "clip": false},
      "encoding": {"x": {"datum": 3.8067, "type": "quantitative", "axis": null}, "y": {"datum": 0.1368, "type": "quantitative", "axis": null}}
    },
    {
      "data": {"values": [{}]},
      "mark": {"type": "text", "text": "n", "fontSize": 31, "font": "Liberation Sans", "align": "left", "baseline": "alphabetic", "color": "black", "clip": false},
      "encoding": {"x": {"datum": 3.8721, "type": "quantitative", "axis": null}, "y": {"datum": 0.0699, "type": "quantitative", "axis": null}}
    },
    {
      "data": {"values": [{}]},
      "mark": {"type": "text", "text": "(MeV)", "fontSize": 47, "font": "Liberation Sans", "align": "left", "baseline": "alphabetic", "color": "black", "clip": false},
      "encoding": {"x": {"datum": 3.9233, "type": "quantitative", "axis": null}, "y": {"datum": 0.1368, "type": "quantitative", "axis": null}}
    }
  ]
}
